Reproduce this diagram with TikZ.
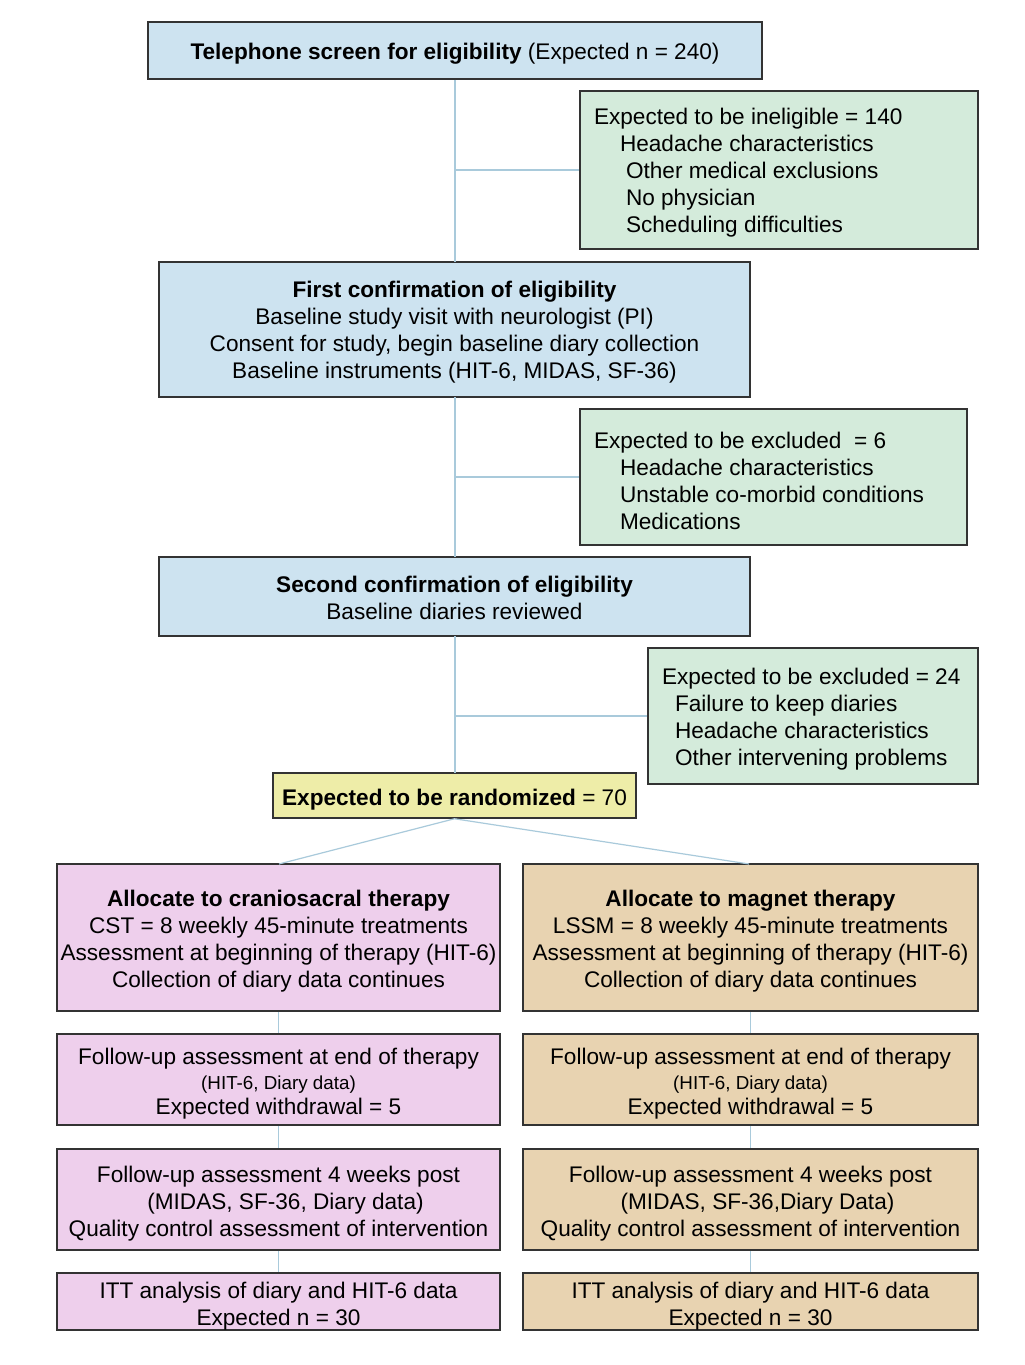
\documentclass[tikz,border=0pt]{standalone}
\usepackage{fontspec}
\setmainfont{Liberation Sans}
\definecolor{cblue}{HTML}{CDE3F0}
\definecolor{cgreen}{HTML}{D4EBDB}
\definecolor{cyellow}{HTML}{EEEDA8}
\definecolor{cpink}{HTML}{EECFEC}
\definecolor{ctan}{HTML}{E8D3B1}
\definecolor{cline}{HTML}{A9CADB}
\definecolor{cborder}{HTML}{333333}
\def\boxlift{12.4pt}
\begin{document}
\begin{tikzpicture}[x=0.5pt,y=-0.5pt,
  lift/.code={\def\boxlift{#1}},
  box/.style={draw=cborder,line width=0.75pt,inner xsep=0pt,inner ysep=0pt,align=flush center,
    text width=#1,font=\fontsize{11.3}{13.5}\selectfont,execute at begin node={\rule{0pt}{\boxlift}}},
  sidebox/.style={draw=cborder,line width=0.75pt,fill=cgreen,inner xsep=7pt,inner ysep=0pt,align=flush left,
    font=\fontsize{11.3}{13.5}\selectfont,execute at begin node={\rule{0pt}{\boxlift}}},
  conn/.style={draw=cline,line width=0.6pt}]
\useasboundingbox (0,0) rectangle (1024,1365);
\fill[white] (0,0) rectangle (1024,1365);

\node[box=307pt,fill=cblue,minimum height=28.5pt,lift=11.8pt] (tel) at (455,50.5)
  {\textbf{Telephone screen for eligibility} (Expected n = 240)};
\node[sidebox,text width=185pt,minimum height=79pt,lift=10.6pt] (inel) at (779,170)
  {Expected to be ineligible = 140\\
   \hspace*{13pt}Headache characteristics\\
   \hspace*{16pt}Other medical exclusions\\
   \hspace*{16pt}No physician\\
   \hspace*{16pt}Scheduling difficulties};
\node[box=295.5pt,fill=cblue,minimum height=67.5pt,lift=10.6pt] (first) at (454.5,329.5)
  {\textbf{First confirmation of eligibility}\\
   Baseline study visit with neurologist (PI)\\
   Consent for study, begin baseline diary collection\\
   Baseline instruments (HIT-6, MIDAS, SF-36)};
\node[sidebox,text width=179.5pt,minimum height=68pt] (excl1) at (773.5,477)
  {Expected to be excluded\ \ = 6\\
   \hspace*{13pt}Headache characteristics\\
   \hspace*{13pt}Unstable co-morbid conditions\\
   \hspace*{13pt}Medications};
\node[box=295.5pt,fill=cblue,minimum height=39.5pt,lift=9.4pt] (second) at (454.5,596.5)
  {\textbf{Second confirmation of eligibility}\\
   Baseline diaries reviewed};
\node[sidebox,text width=151pt,minimum height=68pt,lift=11.6pt] (excl2) at (813,716)
  {\mbox{Expected to be excluded = 24}\\
   \hspace*{6.5pt}Failure to keep diaries\\
   \hspace*{6.5pt}Headache characteristics\\
   \hspace*{6.5pt}\mbox{Other intervening problems}};
\node[box=181.5pt,fill=cyellow,minimum height=22.5pt] (rand) at (454.5,795.5)
  {\textbf{Expected to be randomized} = 70};

% left column
\node[box=221.5pt,fill=cpink,minimum height=73.5pt,lift=11.6pt] (l1) at (278.5,937.5)
  {\textbf{Allocate to craniosacral therapy}\\
   CST = 8 weekly 45-minute treatments\\
   \mbox{Assessment at beginning of therapy (HIT-6)}\\
   Collection of diary data continues};
\node[box=221.5pt,fill=cpink,minimum height=45.5pt,font=\fontsize{11.3}{12.5}\selectfont] (l2) at (278.5,1079.5)
  {Follow-up assessment at end of therapy\\
   {\fontsize{9.4}{12.5}\selectfont (HIT-6, Diary data)}\\
   Expected withdrawal = 5};
\node[box=221.5pt,fill=cpink,minimum height=50.5pt] (l3) at (278.5,1199.5)
  {Follow-up assessment 4 weeks post\\
   \hspace*{7pt}(MIDAS, SF-36, Diary data)\\
   Quality control assessment of intervention};
\node[box=221.5pt,fill=cpink,minimum height=28.5pt] (l4) at (278.5,1301.5)
  {ITT analysis of diary and HIT-6 data\\
   Expected n = 30};

% right column
\node[box=227.5pt,fill=ctan,minimum height=73.5pt,lift=11.6pt] (r1) at (750.5,937.5)
  {\textbf{Allocate to magnet therapy}\\
   LSSM = 8 weekly 45-minute treatments\\
   Assessment at beginning of therapy (HIT-6)\\
   Collection of diary data continues};
\node[box=227.5pt,fill=ctan,minimum height=45.5pt,font=\fontsize{11.3}{12.5}\selectfont] (r2) at (750.5,1079.5)
  {Follow-up assessment at end of therapy\\
   {\fontsize{9.4}{12.5}\selectfont (HIT-6, Diary data)}\\
   Expected withdrawal = 5};
\node[box=227.5pt,fill=ctan,minimum height=50.5pt] (r3) at (750.5,1199.5)
  {Follow-up assessment 4 weeks post\\
   \hspace*{7pt}(MIDAS, SF-36,Diary Data)\\
   Quality control assessment of intervention};
\node[box=227.5pt,fill=ctan,minimum height=28.5pt] (r4) at (750.5,1301.5)
  {ITT analysis of diary and HIT-6 data\\
   Expected n = 30};

% connectors
\coordinate (t1) at (455,170);
\coordinate (t2) at (455,477);
\coordinate (t3) at (455,716);
\path[conn] (tel.south) -- (455,262) (t1) -- (inel.west);
\path[conn] (455,397) -- (455,557) (t2) -- (excl1.west);
\path[conn] (455,636) -- (455,773) (t3) -- (excl2.west);
\path[conn] (rand.south) -- (279,864) (rand.south) -- (749,864);
\path[conn] (l1.south) -- (l2.north) (l2.south) -- (l3.north) (l3.south) -- (l4.north);
\path[conn] (r1.south) -- (r2.north) (r2.south) -- (r3.north) (r3.south) -- (r4.north);
\end{tikzpicture}
\end{document}
